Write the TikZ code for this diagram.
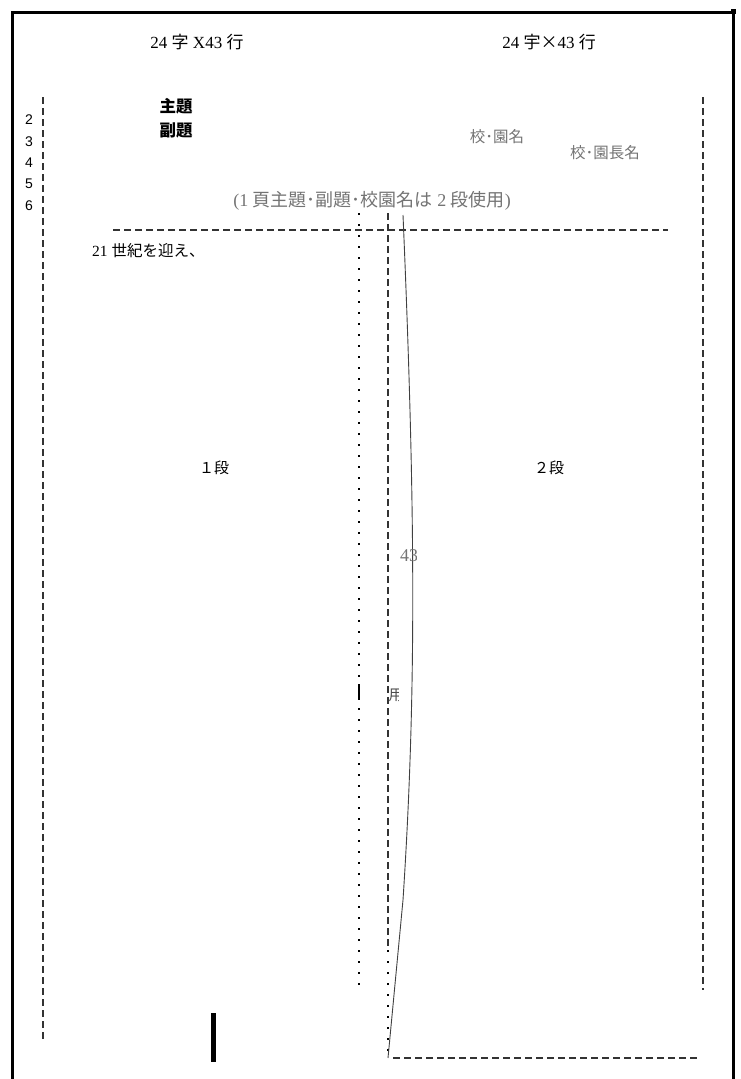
\documentclass[tikz,border=0pt]{standalone}
\usepackage{fontspec}
\setmainfont{Liberation Serif}
\newfontfamily\cjk{Noto Sans CJK JP}
\newfontfamily\sans{Liberation Sans}
\begin{document}
\begin{tikzpicture}[x=1pt,y=-1pt,
  frame/.style={line width=3pt,black},
  dashv/.style={line width=1.3pt,dash pattern=on 7pt off 4pt,black!80},
  doty/.style={line width=2.4pt,dash pattern=on 2.4pt off 8.6pt,black},
  graytxt/.style={text=black!55,inner sep=0pt},
  txt/.style={inner sep=0pt}]
\useasboundingbox (0,0) rectangle (741,1079);
% frame
\draw[frame] (12,1079) -- (12,12) -- (733,12) -- (733,1079);
\fill (731,9) rectangle (736,14);
% headers
\node[txt,font=\fontsize{17}{17}\selectfont] (h1) at (197,42) {24 {\cjk 字} X43 {\cjk 行}};
\node[txt,font=\fontsize{17}{17}\selectfont] (h2) at (549,42) {24 {\cjk 宇×}43 {\cjk 行}};
% numbers
\foreach \n/\y in {2/120,3/142,4/163,5/184,6/206}
  \node[txt,font=\sans\fontsize{14}{14}\selectfont] (n\n) at (29,\y) {\n};
% titles
\node[txt,font=\cjk\bfseries\fontsize{16.5}{16.5}\selectfont] (t1) at (176,106) {主題};
\node[txt,font=\cjk\bfseries\fontsize{16.5}{16.5}\selectfont] (t2) at (176,130) {副題};
\node[graytxt,font=\cjk\fontsize{15.5}{15.5}\selectfont] (s1) at (497,137) {校･園名};
\node[graytxt,font=\cjk\fontsize{15.5}{15.5}\selectfont] (s2) at (605,153) {校･園長名};
\node[graytxt,font=\fontsize{18}{18}\selectfont] (note) at (372,201) {(1 {\cjk 頁主題･副題･校園名は} 2 {\cjk 段使用})};
\node[txt,anchor=west,font=\fontsize{15.5}{15.5}\selectfont] (first) at (92,251) {21 {\cjk 世紀を迎え、}};
\node[txt,font=\cjk\fontsize{15}{15}\selectfont] (d1) at (214,468) {１段};
\node[txt,font=\cjk\fontsize{15}{15}\selectfont] (d2) at (549,468) {２段};
% coordinates
\coordinate (lt) at (43,97);  \coordinate (lb) at (43,1040);
\coordinate (rt) at (703,97); \coordinate (rb) at (703,990);
\coordinate (hl) at (113,230); \coordinate (hr) at (668,230);
\coordinate (pt) at (359,213); \coordinate (pb) at (359,990);
\coordinate (qt) at (388,213); \coordinate (qm) at (388,950); \coordinate (qb) at (388,1058);
\coordinate (bl) at (393,1058); \coordinate (br) at (698,1058);
\coordinate (ct) at (403,215);
% dashed lines
\draw[dashv] (lt) -- (lb);
\draw[dashv] (rt) -- (rb);
\draw[dashv] (hl) -- (hr);
\draw[dashv] (qt) -- (qm);
\draw[dashv] (bl) -- (br);
\draw[doty] (pt) -- (pb);
\draw[doty] (qm) -- (qb);
\draw[line width=2.4pt] (359,684) -- (359,700);
% thin curved line
\draw[black!75,line width=0.9pt] (ct) .. controls (416,520) and (416,700) .. (403,900) -- (qb);
% clipped texts
\begin{scope}
  \clip (395,540) rectangle (416,572);
  \node[graytxt,font=\fontsize{18}{18}\selectfont] (n43) at (409,556) {43};
\end{scope}
\begin{scope}
  \clip (389,684) rectangle (398,706);
  \node[txt,font=\cjk\fontsize{15}{15}\selectfont,text=black!70] (yo) at (396,695) {用};
\end{scope}
% thick bar
\fill (211,1013) rectangle (216,1062);
\end{tikzpicture}
\end{document}
